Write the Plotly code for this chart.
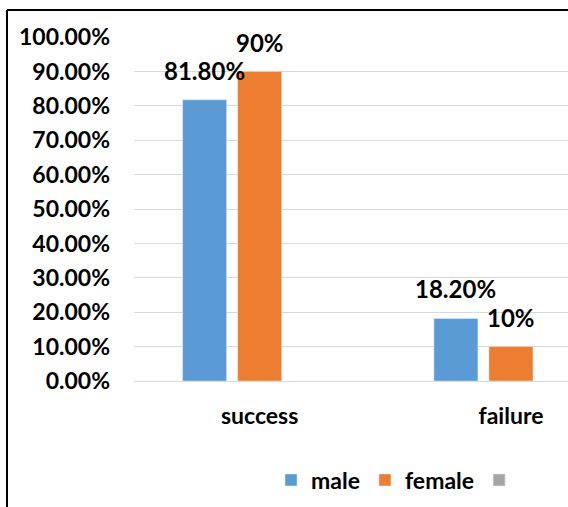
import plotly.graph_objects as go

categories = ["success", "failure"]
male = [0.818, 0.182]
female = [0.90, 0.10]
empty_series = [None, None]
male_labels = ["81.80%", "18.20%"]
female_labels = ["90%", "10%"]
tick_vals = [0, 0.1, 0.2, 0.3, 0.4, 0.5, 0.6, 0.7, 0.8, 0.9, 1.0]
tick_text = ["0.00%", "10.00%", "20.00%", "30.00%", "40.00%", "50.00%",
             "60.00%", "70.00%", "80.00%", "90.00%", "100.00%"]

FONT = "Lato"
BLUE = "#5B9BD5"
ORANGE = "#ED7D31"
GRAY = "#A5A5A5"

fig = go.Figure()
fig.add_trace(go.Bar(x=categories, y=male, name="male", marker_color=BLUE))
fig.add_trace(go.Bar(x=categories, y=female, name="female", marker_color=ORANGE))
fig.add_trace(go.Bar(x=categories, y=empty_series, name=" ", marker_color=GRAY))

annotations = []
for cat, v, t in zip(categories, male, male_labels):
    annotations.append(dict(x=cat, y=v, text=t, showarrow=False, xshift=-55,
                            yanchor="bottom", yshift=13,
                            font=dict(family=FONT, size=24, color="#000")))
for cat, v, t in zip(categories, female, female_labels):
    annotations.append(dict(x=cat, y=v, text=t, showarrow=False, xshift=0,
                            yanchor="bottom", yshift=13,
                            font=dict(family=FONT, size=24, color="#000")))

W, H = 568, 507
L, R, T, B = 134, 0, 37, 126
pw = W - L - R
ph = H - T - B

def px_x(x):
    return (x - L) / pw

def px_y(y):
    return (H - B - y) / ph

shapes = [
    dict(type="line", xref="paper", yref="paper", x0=px_x(7), x1=px_x(7),
         y0=px_y(10), y1=px_y(520), line=dict(color="#000", width=2)),
    dict(type="line", xref="paper", yref="paper", x0=px_x(7), x1=px_x(580),
         y0=px_y(10), y1=px_y(10), line=dict(color="#000", width=2)),
]

fig.update_layout(
    width=W, height=H,
    margin=dict(l=L, r=R, t=T, b=B, pad=0),
    paper_bgcolor="white", plot_bgcolor="white",
    barmode="group", bargap=0.343, bargroupgap=0.2,
    font=dict(family=FONT, size=23, color="#000"),
    showlegend=True,
    legend=dict(orientation="h", x=px_x(271), xanchor="left",
                y=px_y(480), yanchor="middle",
                font=dict(family=FONT, size=23, color="#000", weight="bold"),
                bgcolor="rgba(0,0,0,0)"),
    annotations=annotations,
    shapes=shapes,
)
fig.update_annotations(font_weight="bold")
fig.update_xaxes(range=[-0.5, 1.227], showgrid=False, showline=False,
                 zeroline=False, ticks="", ticklabelstandoff=19,
                 tickfont=dict(family=FONT, size=23, color="#000", weight="bold"))
fig.update_yaxes(range=[0, 1.0005], tickvals=tick_vals, ticktext=tick_text,
                 showgrid=True, gridcolor="#D9D9D9", gridwidth=1,
                 zeroline=True, zerolinecolor="#D9D9D9", zerolinewidth=1,
                 showline=False, ticks="", ticklabelstandoff=23,
                 tickfont=dict(family=FONT, size=23, color="#000", weight="bold"))

fig.write_html("out.html")
